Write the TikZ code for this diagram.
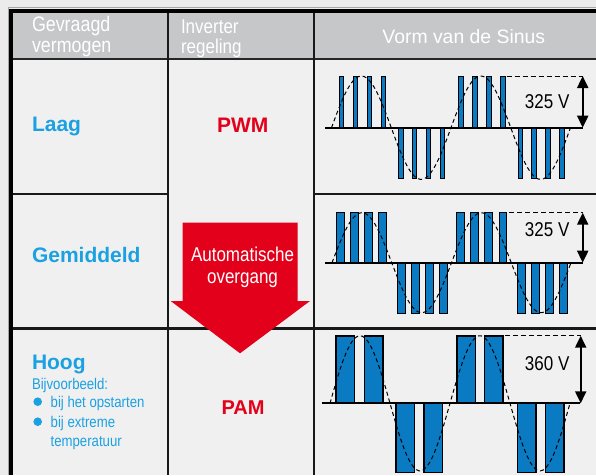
\documentclass[tikz,border=0pt]{standalone}
\usepackage{fontspec}
\setmainfont{Liberation Sans}
\newfontfamily\nar[FakeStretch=0.85]{Liberation Sans}
\usetikzlibrary{arrows.meta}
\definecolor{bgout}{HTML}{EBEBEB}
\definecolor{bgcell}{HTML}{F0F0F0}
\definecolor{hdr}{HTML}{C6C7C9}
\definecolor{myred}{HTML}{E2001A}
\definecolor{mycyan}{HTML}{1BA1E2}
\definecolor{pblue}{HTML}{0A7BC2}
\tikzset{
  txt/.style={inner sep=0pt, outer sep=0pt},
  hdrtxt/.style={txt, text=white, font=\nar\fontsize{21}{21}\selectfont},
  big/.style={txt, text=mycyan, font=\bfseries\fontsize{21}{21}\selectfont},
  redbig/.style={txt, text=myred, font=\bfseries\fontsize{21}{21}\selectfont},
  small/.style={txt, text=mycyan, font=\nar\fontsize{15.5}{15.5}\selectfont},
  volt/.style={txt, text=black, font=\nar\fontsize{20}{20}\selectfont},
  grid/.style={line width=2.4pt, black!90},
  pulse/.style={fill=pblue, draw=black, line width=1pt},
  bigpulse/.style={fill=pblue, draw=black, line width=1.6pt},
  base/.style={line width=2.3pt, black},
  sine/.style={line width=1pt, black, dash pattern=on 4pt off 3pt},
  toplvl/.style={line width=1pt, black, dash pattern=on 5pt off 3pt},
  varrow/.style={line width=2pt, black, {Triangle[width=11pt,length=12pt]}-{Triangle[width=11pt,length=12pt]}}
}
\begin{document}
\begin{tikzpicture}[x=1pt,y=-1pt]
\useasboundingbox (0,0) rectangle (596,475);
% backgrounds
\fill[bgout] (0,0) rectangle (596,475);
\draw[black!35, line width=0.8pt] (8,475) -- (8,7.8) -- (596,7.8);
\fill[bgcell] (11,11) rectangle (596,475);
\fill[hdr] (13,13) rectangle (596,58.7);
% grid lines
\draw[line width=2pt, black!85] (13,58.7) -- (596,58.7);
\draw[grid] (13,194) -- (168,194);
\draw[grid] (313.7,194) -- (596,194);
\draw[grid] (13,328.5) -- (596,328.5);
\draw[grid] (168,13) -- (168,475);
\draw[grid] (313.7,13) -- (313.7,475);
\draw[line width=4.4pt, black] (11.2,475) -- (11.2,11.2) -- (596,11.2);

% header texts
\node[hdrtxt, anchor=base west] (h1a) at (32,31.7) {Gevraagd};
\node[hdrtxt, anchor=base west] (h1b) at (32,52) {vermogen};
\node[hdrtxt, anchor=base west, font=\nar\fontsize{20}{20}\selectfont] (h2a) at (181,33.3) {Inverter};
\node[hdrtxt, anchor=base west, font=\nar\fontsize{20}{20}\selectfont] (h2b) at (181,53.3) {regeling};
\node[hdrtxt, anchor=base, font=\fontsize{19.4}{19.4}\selectfont] (h3) at (463.8,43.3) {Vorm van de Sinus};

% left column
\node[big, anchor=base west] (laag) at (32,131.7) {Laag};
\node[big, anchor=base west] (gem) at (32,262.5) {Gemiddeld};
\node[big, anchor=base west] (hoog) at (32,369.3) {Hoog};
\node[small, anchor=base west] (bijv) at (32,389) {Bijvoorbeeld:};
\fill[mycyan] (37.7,401.7) circle (4.3pt);
\fill[mycyan] (37.7,421.7) circle (4.3pt);
\node[small, anchor=base west] (b1) at (50.7,407.3) {bij het opstarten};
\node[small, anchor=base west] (b2) at (50.7,427) {bij extreme};
\node[small, anchor=base west] (b3) at (50.7,446.7) {temperatuur};

% middle column
\node[redbig, anchor=base] (pwm) at (242.8,132.3) {PWM};
\node[redbig, anchor=base, font=\bfseries\fontsize{20}{20}\selectfont] (pam) at (243,414.3) {PAM};
\fill[myred] (182.7,222.7) -- (297.7,222.7) -- (297.7,301) -- (310,301) -- (240,353.3) -- (170.7,301) -- (182.7,301) -- cycle;
\node[hdrtxt, anchor=base, font=\nar\fontsize{20}{20}\selectfont] (auto1) at (242.5,261.7) {Automatische};
\node[hdrtxt, anchor=base, font=\nar\fontsize{20}{20}\selectfont] (auto2) at (242.5,283.3) {overgang};

% ---- row 1 waveform (PWM, narrow)
\foreach \c in {341.5,355.5,369.5,383.5,461,475,489,503}
  \draw[pulse] (\c-2.3,127.7) rectangle (\c+2.3,76);
\foreach \c in {400.7,414.5,428.5,442.5,520.3,534,548,562}
  \draw[pulse] (\c-2.3,127.7) rectangle (\c+2.3,178);
\draw[base] (325,127.7) -- (583,127.7);
\draw[sine] plot[domain=0:239, samples=90] ({331.5+\x},{127.7-51.7*sin(\x*3.0126)});
\coordinate (t1a) at (506.7,76);
\coordinate (a1t) at (582.7,76);
\coordinate (a1b) at (582.7,127.7);
\draw[toplvl] (t1a) -- (a1t);
\draw[varrow] (a1t) -- (a1b);
\node[volt, anchor=base] (v1) at (547.2,108.3) {325 V};

% ---- row 2 waveform (PWM, wider)
\foreach \c in {340.5,354.7,368.8,382.8,460.5,474.8,488.8,503}
  \draw[pulse] (\c-3.9,262.7) rectangle (\c+3.9,212.7);
\foreach \c in {401.5,415.3,429.7,443.8,521.2,535.3,549.7,563.8}
  \draw[pulse] (\c-3.9,262.7) rectangle (\c+3.9,313.3);
\draw[base] (325,262.7) -- (583,262.7);
\draw[sine] plot[domain=0:239, samples=90] ({332+\x},{262.7-50*sin(\x*3.0126)});
\coordinate (t2a) at (509,212.7);
\coordinate (a2t) at (582.7,212.7);
\coordinate (a2b) at (582.7,262.7);
\draw[toplvl] (t2a) -- (a2t);
\draw[varrow] (a2t) -- (a2b);
\node[volt, anchor=base] (v2) at (547.2,236) {325 V};

% ---- row 3 waveform (PAM)
\foreach \c in {345.2,373.5,466.2,493.8}
  \draw[bigpulse] (\c-9.2,403.3) rectangle (\c+9.2,335.7);
\foreach \c in {405.2,433.3,526.5,554.7}
  \draw[bigpulse] (\c-9.2,403.3) rectangle (\c+9.2,472.3);
\draw[base] (321.7,403.3) -- (580,403.3);
\draw[sine] plot[domain=0:240, samples=90] ({330+\x},{403.3-67.6*sin(\x*3)});
\coordinate (t3a) at (505,335.7);
\coordinate (a3t) at (580.7,335.7);
\coordinate (a3b) at (580.7,403.3);
\draw[toplvl] (t3a) -- (a3t);
\draw[varrow] (a3t) -- (a3b);
\node[volt, anchor=base] (v3) at (547.2,370.7) {360 V};
\end{tikzpicture}
\end{document}
